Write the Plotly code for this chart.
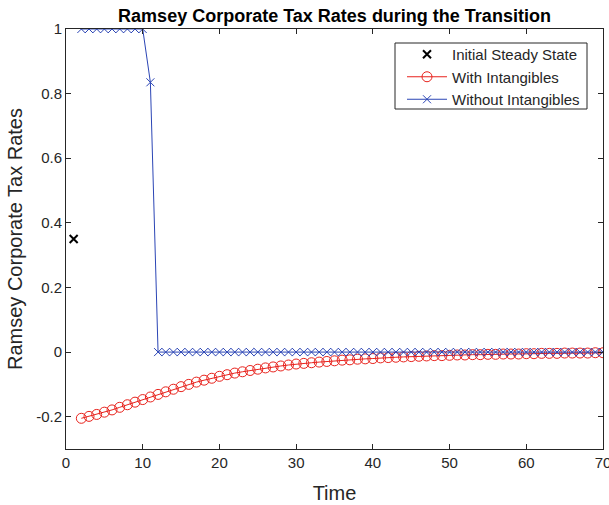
import plotly.graph_objects as go

# ---- data ----
t_init = [1]
init_ss = [0.35]

t_with = list(range(2, 71))
with_intang = [
    -0.205, -0.199, -0.193, -0.186, -0.179, -0.171, -0.163, -0.155, -0.147, -0.139,
    -0.131, -0.123, -0.115, -0.107, -0.100, -0.093, -0.087, -0.081, -0.075, -0.070,
    -0.065, -0.061, -0.057, -0.053, -0.049, -0.046, -0.043, -0.040, -0.037, -0.035,
    -0.033, -0.031, -0.029, -0.027, -0.025, -0.024, -0.022, -0.021, -0.020, -0.018,
    -0.017, -0.016, -0.015, -0.014, -0.013, -0.012, -0.011, -0.011, -0.010, -0.009,
    -0.009, -0.008, -0.008, -0.007, -0.007, -0.006, -0.006, -0.006, -0.005, -0.005,
    -0.004, -0.004, -0.004, -0.003, -0.003, -0.003, -0.003, -0.002, -0.002,
]

t_without = list(range(2, 71))
without_intang = [1, 1, 1, 1, 1, 1, 1, 1, 1, 0.835] + [0] * 59

x_ticks = [0, 10, 20, 30, 40, 50, 60, 70]
y_ticks = [-0.2, 0, 0.2, 0.4, 0.6, 0.8, 1]
y_tick_labels = ["-0.2", "0", "0.2", "0.4", "0.6", "0.8", "1"]

RED = "#e8221c"
BLUE = "#2b45b5"
AX = "#262626"
FONT = "Liberation Sans, Arial, sans-serif"

W, H = 609, 505
ML, MR, MT, MB = 66, 6, 29, 56
PX0, PX1, PY0, PY1 = ML, W - MR, MT, H - MB  # plot area in page pixels


def px_x(p):
    return (p - PX0) / (PX1 - PX0)


def px_y(p):
    return (PY1 - p) / (PY1 - PY0)


fig = go.Figure()
fig.add_trace(go.Scatter(
    x=t_init, y=init_ss, mode="markers", name="Initial Steady State",
    marker=dict(symbol="x-thin", size=8, color="black", line=dict(width=2, color="black")),
))
fig.add_trace(go.Scatter(
    x=t_with, y=with_intang, mode="lines+markers", name="With Intangibles",
    line=dict(color=RED, width=1),
    marker=dict(symbol="circle-open", size=10, color=RED, line=dict(width=1, color=RED)),
))
fig.add_trace(go.Scatter(
    x=t_without, y=without_intang, mode="lines+markers", name="Without Intangibles",
    line=dict(color=BLUE, width=1),
    marker=dict(symbol="x-thin-open", size=8, color=BLUE, line=dict(width=1, color=BLUE)),
))

# legend frame
fig.add_shape(type="rect", xref="paper", yref="paper",
              x0=px_x(395), x1=px_x(587), y0=px_y(109), y1=px_y(43),
              line=dict(color=AX, width=1), fillcolor="white", layer="above")

fig.update_layout(
    width=W, height=H,
    margin=dict(l=ML, r=MR, t=MT, b=MB, autoexpand=False),
    paper_bgcolor="white", plot_bgcolor="white",
    font=dict(family=FONT, size=15, color="#262626"),
    title=dict(text="<b>Ramsey Corporate Tax Rates during the Transition</b>",
               x=0.5, xref="paper", xanchor="center",
               y=1 - 16 / H, yref="container", yanchor="middle",
               font=dict(size=18, color="black")),
    showlegend=True,
    legend=dict(x=px_x(402), y=px_y(38), xanchor="left", yanchor="top",
                bgcolor="rgba(0,0,0,0)", borderwidth=0,
                font=dict(size=15, color="#262626"), tracegroupgap=0,
                itemwidth=40),
)
fig.update_xaxes(
    range=[0, 70], tickvals=x_ticks, ticktext=[str(v) for v in x_ticks],
    ticks="inside", ticklen=5, tickcolor=AX, showline=True, linecolor=AX, linewidth=1,
    mirror="ticks", showgrid=False, zeroline=False, automargin=False,
    ticklabeloverflow="allow",
    title=dict(text="Time", font=dict(size=20, color="#262626"), standoff=15),
    tickfont=dict(size=15),
)
fig.update_yaxes(
    range=[-0.3, 1], tickvals=y_ticks, ticktext=y_tick_labels,
    ticks="inside", ticklen=5, tickcolor=AX, showline=True, linecolor=AX, linewidth=1,
    mirror="ticks", showgrid=False, zeroline=False, automargin=False,
    title=dict(text="Ramsey Corporate Tax Rates", font=dict(size=20, color="#262626"), standoff=8),
    tickfont=dict(size=15),
)

fig.write_html(
    "out.html",
    config={"displayModeBar": False},
    post_script="document.body.style.margin='0';document.body.style.overflow='hidden';",
)
